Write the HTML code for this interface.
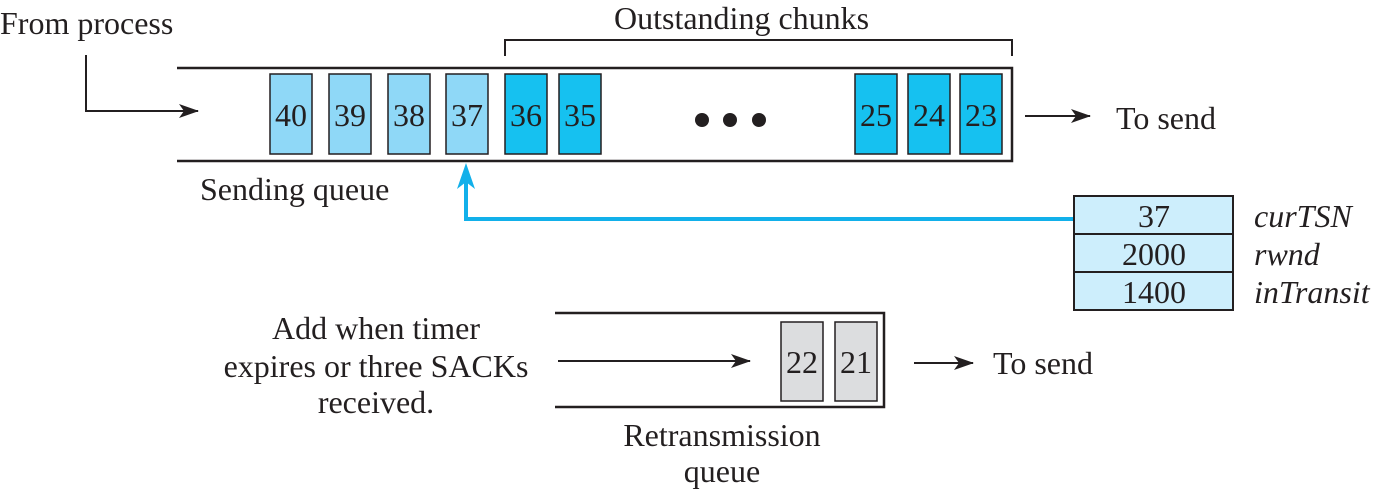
<!DOCTYPE html>
<html><head><meta charset="utf-8"><style>
html,body{margin:0;padding:0;background:#fff;}
svg{display:block;}
text{font-family:"Liberation Serif",serif;fill:#231f20;}
</style></head><body>
<svg width="1376" height="495" viewBox="0 0 1376 495" xmlns="http://www.w3.org/2000/svg">
<defs>
<marker id="ah" markerWidth="20" markerHeight="14" refX="19" refY="7" orient="auto" markerUnits="userSpaceOnUse">
<path d="M0,0 L20,7 L0,14 L5,7 Z" fill="#231f20"/></marker>
</defs>
<g font-size="32">
<text x="0" y="34">From process</text>
<text x="614" y="29">Outstanding chunks</text>
<text x="200" y="200">Sending queue</text>
<text x="1116" y="129">To send</text>
<text x="993" y="374">To send</text>
<text x="376" y="339" text-anchor="middle">Add when timer</text>
<text x="376" y="377" text-anchor="middle">expires or three SACKs</text>
<text x="376" y="413" text-anchor="middle">received.</text>
<text x="722" y="446" text-anchor="middle">Retransmission</text>
<text x="722" y="482" text-anchor="middle">queue</text>
</g>
<path d="M86,55 V111 H198" fill="none" stroke="#231f20" stroke-width="2" marker-end="url(#ah)"/>
<path d="M505,56 V40 H1012 V56" fill="none" stroke="#231f20" stroke-width="2"/>
<path d="M177,68 H1012 V161 H177" fill="none" stroke="#231f20" stroke-width="2.5"/>
<g stroke="#231f20" stroke-width="1.5">
<rect x="270" y="74" width="42" height="80" fill="#8fd8f7"/>
<rect x="329" y="74" width="42" height="80" fill="#8fd8f7"/>
<rect x="388" y="74" width="42" height="80" fill="#8fd8f7"/>
<rect x="446" y="74" width="42" height="80" fill="#8fd8f7"/>
<rect x="505" y="74" width="42" height="80" fill="#16c1f0"/>
<rect x="559" y="74" width="42" height="80" fill="#16c1f0"/>
<rect x="855" y="74" width="42" height="80" fill="#16c1f0"/>
<rect x="908" y="74" width="42" height="80" fill="#16c1f0"/>
<rect x="960" y="74" width="42" height="80" fill="#16c1f0"/>
</g>
<g font-size="32" text-anchor="middle">
<text x="291" y="126">40</text><text x="350" y="126">39</text><text x="409" y="126">38</text>
<text x="467" y="126">37</text><text x="526" y="126">36</text><text x="580" y="126">35</text>
<text x="876" y="126">25</text><text x="929" y="126">24</text><text x="981" y="126">23</text>
</g>
<circle cx="702" cy="120" r="7" fill="#231f20"/>
<circle cx="730" cy="120" r="7" fill="#231f20"/>
<circle cx="759" cy="120" r="7" fill="#231f20"/>
<path d="M1025,116 H1090" stroke="#231f20" stroke-width="2" marker-end="url(#ah)"/>
<path d="M1074,219 H466 V182" fill="none" stroke="#12b0ea" stroke-width="4"/>
<path d="M466,163 L475,189 L466,182 L457,189 Z" fill="#12b0ea"/>
<g stroke="#231f20" stroke-width="2" fill="#cdeefc">
<rect x="1074" y="196" width="159" height="38"/>
<rect x="1074" y="234" width="159" height="38"/>
<rect x="1074" y="272" width="159" height="38"/>
</g>
<g font-size="32" text-anchor="middle">
<text x="1154" y="227">37</text><text x="1154" y="265">2000</text><text x="1154" y="303">1400</text>
</g>
<g font-size="32" font-style="italic">
<text x="1254" y="227">curTSN</text><text x="1254" y="265">rwnd</text><text x="1254" y="303">inTransit</text>
</g>
<path d="M555,313 H884 V407 H555" fill="none" stroke="#231f20" stroke-width="2.5"/>
<path d="M558,361 H750" stroke="#231f20" stroke-width="2" marker-end="url(#ah)"/>
<g stroke="#231f20" stroke-width="1.5" fill="#dcdddf">
<rect x="781" y="322" width="42" height="79"/>
<rect x="835" y="322" width="42" height="79"/>
</g>
<g font-size="32" text-anchor="middle">
<text x="802" y="373">22</text><text x="856" y="373">21</text>
</g>
<path d="M914,363 H973" stroke="#231f20" stroke-width="2" marker-end="url(#ah)"/>
</svg>
</body></html>
